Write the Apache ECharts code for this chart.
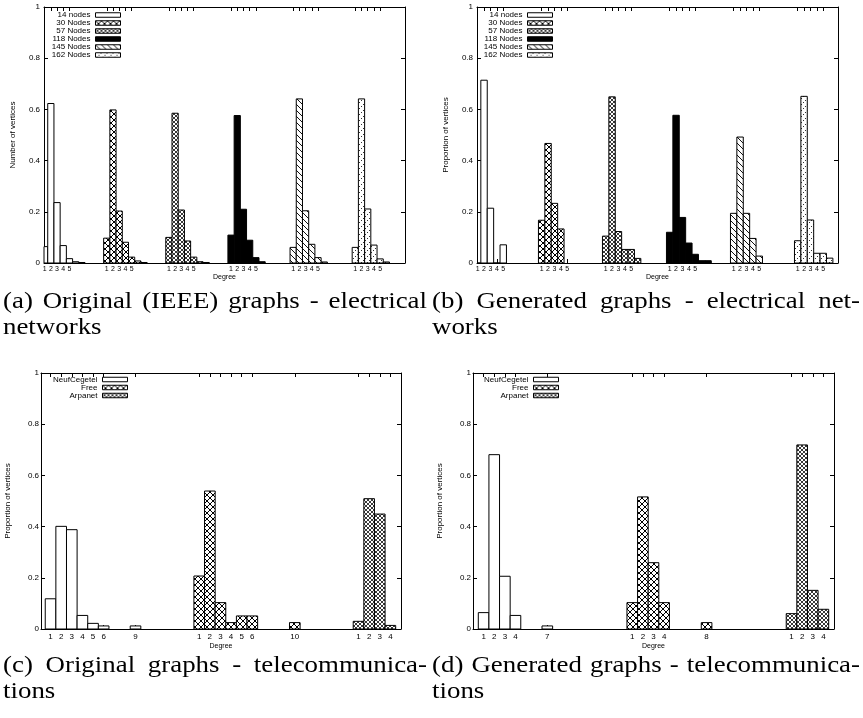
<!DOCTYPE html>
<html>
<head>
<meta charset="utf-8">
<script src="https://cdn.jsdelivr.net/npm/echarts@6/dist/echarts.min.js"></script>
<style>
  html, body { margin: 0; padding: 0; background: #fff; }
  #chart { width: 863px; height: 718px; }
</style>
</head>
<body>
<div id="chart"></div>
<script>
// ---- Degree distributions (proportion of vertices per degree) ----

// Electrical networks: degree 1, 2, 3, ... for each network size
const elecNames = ['14 nodes', '30 Nodes', '57 Nodes', '118 Nodes', '145 Nodes', '162 Nodes'];
const elecDegreeTicks = [1, 2, 3, 4, 5];

// (a) original IEEE graphs
const ieee14  = [0.064, 0.623, 0.236, 0.068, 0.017, 0.005, 0.002];
const ieee30  = [0.097, 0.598, 0.203, 0.081, 0.023, 0.008, 0.002];
const ieee57  = [0.100, 0.585, 0.207, 0.086, 0.023, 0.005, 0.002];
const ieee118 = [0.109, 0.576, 0.210, 0.089, 0.021, 0.005];
const ieee145 = [0.061, 0.641, 0.204, 0.073, 0.021, 0.004];
const ieee162 = [0.061, 0.641, 0.211, 0.070, 0.016, 0.004];

// (b) generated graphs
const gen14  = [0, 0.714, 0.214, 0, 0.071];
const gen30  = [0.167, 0.467, 0.233, 0.133];
const gen57  = [0.105, 0.649, 0.123, 0.053, 0.053, 0.018];
const gen118 = [0.120, 0.577, 0.178, 0.078, 0.034, 0.009, 0.009];
const gen145 = [0.194, 0.492, 0.194, 0.096, 0.027];
const gen162 = [0.087, 0.651, 0.168, 0.038, 0.038, 0.019];

// Telecommunication networks
const telecomNames = ['NeufCegetel', 'Free', 'Arpanet'];

// (c) original graphs
const origNeufDegrees = [1, 2, 3, 4, 5, 6, 9];
const origNeuf        = [0.118, 0.401, 0.388, 0.053, 0.022, 0.012, 0.012];
const origFreeDegrees = [1, 2, 3, 4, 5, 6, 10];
const origFree        = [0.207, 0.539, 0.103, 0.025, 0.051, 0.051, 0.025];
const origArpaDegrees = [1, 2, 3, 4];
const origArpa        = [0.030, 0.509, 0.449, 0.014];

// (d) generated graphs
const genNeufDegrees = [1, 2, 3, 4, 7];
const genNeuf        = [0.064, 0.681, 0.206, 0.053, 0.012];
const genFreeDegrees = [1, 2, 3, 4, 8];
const genFree        = [0.103, 0.516, 0.259, 0.103, 0.025];
const genArpaDegrees = [1, 2, 3, 4];
const genArpa        = [0.060, 0.719, 0.151, 0.077];

// Captions under each plot
const captionA = [['(a)', 'Original', '(IEEE)', 'graphs', '-', 'electrical'], ['networks']];
const captionB = [['(b)', 'Generated', 'graphs', '-', 'electrical', 'net-'], ['works']];
const captionC = [['(c)', 'Original', 'graphs', '-', 'telecommunica-'], ['tions']];
const captionD = [['(d)', 'Generated', 'graphs', '-', 'telecommunica-'], ['tions']];

// ---- Fill patterns ----
function makePattern(size, draw) {
  const c = document.createElement('canvas');
  c.width = size; c.height = size;
  const ctx = c.getContext('2d');
  ctx.fillStyle = '#fff';
  ctx.fillRect(0, 0, size, size);
  draw(ctx, size);
  return { image: c, repeat: 'repeat' };
}
const fillEmpty = '#ffffff';
const fillSolid = '#000000';
const fillCross = makePattern(6, (ctx, s) => {
  ctx.strokeStyle = '#000'; ctx.lineWidth = 1;
  ctx.beginPath();
  ctx.moveTo(0, 0); ctx.lineTo(s, s);
  ctx.moveTo(s, 0); ctx.lineTo(0, s);
  ctx.stroke();
});
const fillDense = makePattern(4, (ctx, s) => {
  ctx.strokeStyle = '#222'; ctx.lineWidth = 0.9;
  ctx.beginPath();
  ctx.moveTo(0, 0); ctx.lineTo(s, s);
  ctx.moveTo(s, 0); ctx.lineTo(0, s);
  ctx.stroke();
});
const fillBackslash = makePattern(6, (ctx, s) => {
  ctx.strokeStyle = '#111'; ctx.lineWidth = 1;
  ctx.beginPath();
  ctx.moveTo(-1, -1); ctx.lineTo(s + 1, s + 1);
  ctx.stroke();
});
const fillSlashDots = makePattern(6, (ctx, s) => {
  ctx.fillStyle = '#333';
  ctx.fillRect(5, 0, 1, 1);
  ctx.fillRect(3, 2, 1, 1);
  ctx.fillRect(1, 4, 1, 1);
});

const elecFills = [fillEmpty, fillCross, fillDense, fillSolid, fillBackslash, fillSlashDots];
const telecomFills = [fillEmpty, fillCross, fillDense];

// ---- Layout ----
const sansFont = 'Liberation Sans';
const panels = [
  { grid: { left: 44, top: 7, width: 361, height: 256 }, xMin: 0.9, xMax: 59, yName: 'Number of vertices' },
  { grid: { left: 477, top: 7, width: 361, height: 256 }, xMin: 0.9, xMax: 57.3, yName: 'Proportion of vertices' },
  { grid: { left: 41, top: 373, width: 360, height: 256 }, xMin: 0.1, xMax: 34, yName: 'Proportion of vertices' },
  { grid: { left: 473, top: 373, width: 361, height: 256 }, xMin: 0, xMax: 34, yName: 'Proportion of vertices' }
];

// Each bar occupies one unit on the x axis; groups are laid side by side
const elecGroupStride = 10;
const telecomOffsets = [0, 14, 29];

function renderBarFor(fill) {
  return function (params, api) {
    const x = api.value(0), y = api.value(1);
    const p0 = api.coord([x - 0.5, y]);
    const p1 = api.coord([x + 0.5, 0]);
    const cs = params.coordSys;
    const shape = echarts.graphic.clipRectByRect(
      { x: p0[0], y: p0[1], width: p1[0] - p0[0], height: p1[1] - p0[1] },
      { x: cs.x, y: cs.y, width: cs.width, height: cs.height }
    );
    if (!shape) return null;
    return { type: 'rect', shape: shape, style: { fill: fill, stroke: '#000', lineWidth: 1 } };
  };
}

const series = [];
function addSeries(panelIdx, name, fill, points) {
  series.push({
    type: 'custom',
    name: name,
    xAxisIndex: panelIdx * 2,
    yAxisIndex: panelIdx * 2,
    itemStyle: { color: fill, borderColor: '#000', borderWidth: 1 },
    renderItem: renderBarFor(fill),
    encode: { x: 0, y: 1 },
    data: points
  });
}

// Electrical panels
const elecSets = [
  [ieee14, ieee30, ieee57, ieee118, ieee145, ieee162],
  [gen14, gen30, gen57, gen118, gen145, gen162]
];
const elecTicks = [];
const elecTickText = {};
elecNames.forEach((_, g) => {
  elecDegreeTicks.forEach(d => {
    const v = g * elecGroupStride + d;
    elecTicks.push(v);
    elecTickText[v] = String(d);
  });
});
elecSets.forEach((set, p) => {
  set.forEach((vals, g) => {
    addSeries(p, elecNames[g], elecFills[g],
      vals.map((v, i) => [g * elecGroupStride + i + 1, v]));
  });
});

// Telecom panels
const telecomSets = [
  [[origNeufDegrees, origNeuf], [origFreeDegrees, origFree], [origArpaDegrees, origArpa]],
  [[genNeufDegrees, genNeuf], [genFreeDegrees, genFree], [genArpaDegrees, genArpa]]
];
const telecomTicks = [[], []];
const telecomTickText = [{}, {}];
telecomSets.forEach((set, k) => {
  set.forEach(([degs, vals], s) => {
    degs.forEach(d => {
      const v = telecomOffsets[s] + d;
      telecomTicks[k].push(v);
      telecomTickText[k][v] = String(d);
    });
    addSeries(2 + k, telecomNames[s], telecomFills[s],
      vals.map((v, i) => [telecomOffsets[s] + degs[i], v]));
  });
});

// ---- Axes ----
const xAxes = [], yAxes = [];
panels.forEach((pn, p) => {
  const isElec = p < 2;
  const ticks = isElec ? elecTicks : telecomTicks[p - 2];
  const text = isElec ? elecTickText : telecomTickText[p - 2];
  const line = { show: true, onZero: false, lineStyle: { color: '#000', width: 1 } };
  xAxes.push({
    type: 'value', gridIndex: p, min: pn.xMin, max: pn.xMax, position: 'bottom',
    axisLine: line,
    axisTick: { show: true, inside: true, length: 4, customValues: ticks, lineStyle: { color: '#000' } },
    axisLabel: {
      show: true, customValues: ticks, formatter: v => text[v] || '',
      fontSize: isElec ? 7 : 8, fontFamily: sansFont, color: '#000', margin: isElec ? 3 : 4
    },
    splitLine: { show: false },
    name: 'Degree', nameLocation: 'middle', nameGap: isElec ? 10 : 14,
    nameTextStyle: { fontSize: 7, fontFamily: sansFont, color: '#000' }
  });
  xAxes.push({
    type: 'value', gridIndex: p, min: pn.xMin, max: pn.xMax, position: 'top',
    axisLine: line,
    axisTick: { show: true, inside: true, length: 4, customValues: ticks, lineStyle: { color: '#000' } },
    axisLabel: { show: false },
    splitLine: { show: false }
  });
  yAxes.push({
    type: 'value', gridIndex: p, min: 0, max: 1, interval: 0.2, position: 'left',
    axisLine: line,
    axisTick: { show: true, inside: true, length: 4, lineStyle: { color: '#000' } },
    axisLabel: { fontSize: 8, fontFamily: sansFont, color: '#000', margin: isElec ? 4 : 2 },
    splitLine: { show: false },
    name: pn.yName, nameLocation: 'middle', nameRotate: 90, nameGap: isElec ? 27 : 29,
    nameTextStyle: { fontSize: 8, fontFamily: sansFont, color: '#000' }
  });
  yAxes.push({
    type: 'value', gridIndex: p, min: 0, max: 1, interval: 0.2, position: 'right',
    axisLine: line,
    axisTick: { show: true, inside: true, length: 4, lineStyle: { color: '#000' } },
    axisLabel: { show: false },
    splitLine: { show: false }
  });
});

// ---- Legends (text on the left, swatch on the right) ----
function legendAt(names, right, top, lineHeight) {
  return {
    data: names, orient: 'vertical', align: 'right', right: right, top: top,
    padding: 0, itemGap: 0, itemWidth: 25, itemHeight: 4.5, icon: 'rect',
    selectedMode: false,
    itemStyle: { borderColor: '#000', borderWidth: 1 },
    textStyle: { fontSize: 8, fontFamily: sansFont, color: '#000', lineHeight: lineHeight }
  };
}
const legends = [
  legendAt(elecNames, 742, 11, 7.7),
  legendAt(elecNames, 310, 11, 7.7),
  legendAt(telecomNames, 735, 375.5, 7.5),
  legendAt(telecomNames, 304, 375.5, 7.5)
];

// ---- Captions ----
const captionFamily = 'Liberation Serif';
const captionSize = 24;
const captionScale = 1.12;
const measureCtx = document.createElement('canvas').getContext('2d');
measureCtx.font = captionSize + 'px "' + captionFamily + '"';
function captionWords(words, x0, x1, y, justify) {
  const widths = words.map(w => measureCtx.measureText(w).width * captionScale);
  const total = widths.reduce((a, b) => a + b, 0);
  const gap = justify && words.length > 1
    ? (x1 - x0 - total) / (words.length - 1)
    : measureCtx.measureText(' ').width * captionScale;
  const out = [];
  let x = x0;
  words.forEach((w, i) => {
    out.push({
      type: 'text', x: x, y: y, scaleX: captionScale, silent: true,
      style: { text: w, fontSize: captionSize, fontFamily: captionFamily, fill: '#000',
               align: 'left', verticalAlign: 'middle' }
    });
    x += widths[i] + gap;
  });
  return out;
}
function caption(lines, x0, x1, y) {
  return captionWords(lines[0], x0, x1, y, true).concat(captionWords(lines[1], x0, x1, y + 26, false));
}
const graphics = []
  .concat(caption(captionA, 3, 427, 302))
  .concat(caption(captionB, 432, 860, 302))
  .concat(caption(captionC, 3, 427, 666))
  .concat(caption(captionD, 432, 860, 666));

const chart = echarts.init(document.getElementById('chart'), null, { renderer: 'canvas' });
chart.setOption({
  animation: false,
  backgroundColor: '#fff',
  grid: panels.map(pn => Object.assign({ containLabel: false }, pn.grid)),
  xAxis: xAxes,
  yAxis: yAxes,
  legend: legends,
  series: series,
  graphic: graphics
});
</script>
</body>
</html>
